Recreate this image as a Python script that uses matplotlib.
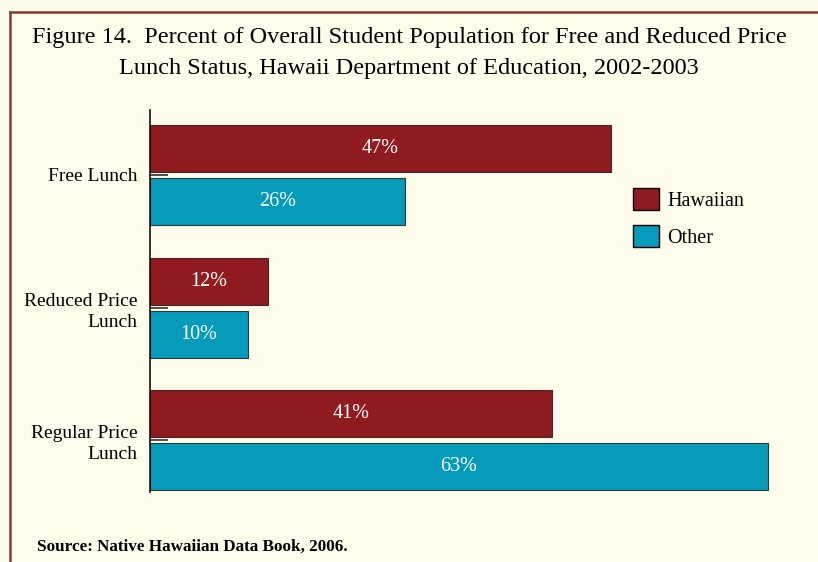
import numpy as np
import matplotlib
matplotlib.use("Agg")
import matplotlib.pyplot as plt
from matplotlib.lines import Line2D
from matplotlib.patches import Patch

categories = ["Free Lunch", "Reduced Price\nLunch", "Regular Price\nLunch"]
hawaiian = [47, 12, 41]
other = [26, 10, 63]
series_names = ["Hawaiian", "Other"]

bg = "#FEFCEA"
red = "#8F1B1F"
teal = "#069ABB"
border = "#8B3A3A"
serif = ["Liberation Serif", "DejaVu Serif"]

W, H = 818, 562
fig = plt.figure(figsize=(W / 100, H / 100), dpi=100, facecolor=bg)

# axes placed in pixel terms: left 150, top 110, bottom 492
ax = fig.add_axes([150 / W, 1 - 492 / H, (817 - 150) / W, (492 - 110) / H])
ax.set_facecolor(bg)

y = np.arange(len(categories))
h = 0.355
off = 0.2
b1 = ax.barh(y - off, hawaiian, height=h, color=red, edgecolor="#3a2a2a", linewidth=0.8)
b2 = ax.barh(y + off, other, height=h, color=teal, edgecolor="#2a3a3a", linewidth=0.8)

for bars, vals in ((b1, hawaiian), (b2, other)):
    for rect, v in zip(bars, vals):
        ax.text(rect.get_width() / 2, rect.get_y() + rect.get_height() / 2, f"{v}%",
                ha="center", va="center", color="white", fontsize=14.5,
                family=serif)

ax.set_xlim(0, 68)
ax.set_ylim(2 + 0.39, -0.49)
ax.set_yticks(y)
ax.set_yticklabels(categories, family=serif, fontsize=14, linespacing=1.3)
ax.tick_params(axis="y", direction="in", length=13, width=1.2, color="#333333", pad=9)
ax.set_xticks([])
for s in ("top", "right", "bottom"):
    ax.spines[s].set_visible(False)
ax.spines["left"].set_linewidth(1.2)
ax.spines["left"].set_color("#111111")

handles = [Patch(facecolor=red, edgecolor="black", label=series_names[0]),
           Patch(facecolor=teal, edgecolor="black", label=series_names[1])]
fig.legend(handles=handles, loc="upper left", bbox_to_anchor=(615 / W, 1 - 170 / H),
           frameon=False, prop={"family": serif, "size": 14.5},
           handlelength=1.3, handleheight=1.3, handletextpad=0.4, labelspacing=0.7)

fig.text(0.5, 1 - 37 / H, "Figure 14.  Percent of Overall Student Population for Free and Reduced Price",
         ha="center", va="center", fontsize=17.5, family=serif)
fig.text(0.5, 1 - 68 / H, "Lunch Status, Hawaii Department of Education, 2002-2003",
         ha="center", va="center", fontsize=17.5, family=serif)
fig.text(37 / W, 1 - 547 / H, "Source: Native Hawaiian Data Book, 2006.",
         ha="left", va="center", fontsize=12.3, family=serif, fontweight="bold")

# frame lines
fig.add_artist(Line2D([10 / W, 10 / W], [0, 1 - 12 / H], color=border, lw=1.8,
                      transform=fig.transFigure))
fig.add_artist(Line2D([10 / W, 1], [1 - 12 / H, 1 - 12 / H], color=border, lw=1.8,
                      transform=fig.transFigure))

fig.savefig("out.png", dpi=100, facecolor=bg)
